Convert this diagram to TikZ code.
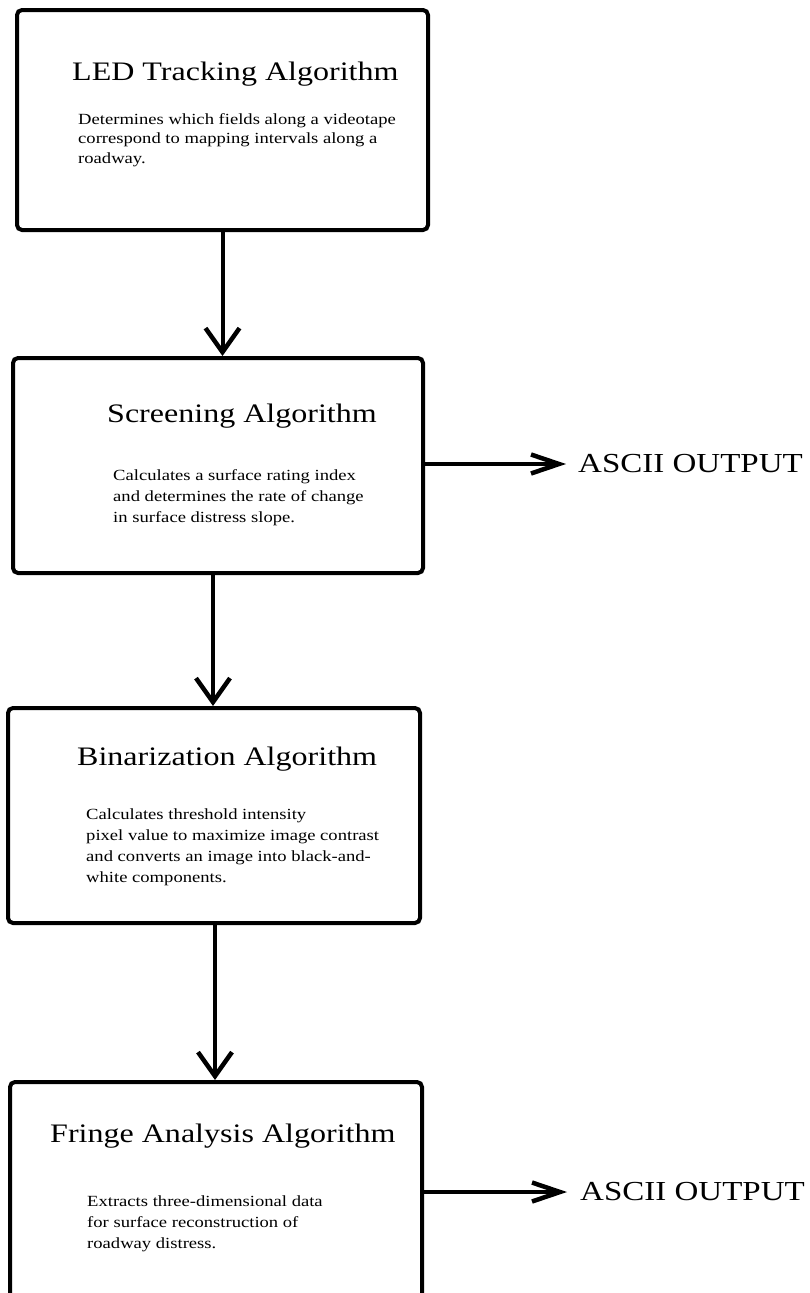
\documentclass[tikz,border=0pt]{standalone}
\usepackage{fontspec}
\setmainfont{Liberation Serif}[FakeStretch=1.2]
\usetikzlibrary{arrows.meta}
\tikzset{
  x=1pt, y=1pt,
  box/.style={draw=black, line width=4pt, rounded corners=5pt, inner sep=0pt, fill=none},
  title/.style={anchor=base west, inner sep=0pt, font=\fontsize{26.7}{32}\selectfont},
  desc/.style={anchor=base west, inner sep=0pt, align=left, font=\fontsize{15.5}{21}\selectfont},
  desca/.style={desc, font=\fontsize{15.5}{19.5}\selectfont},
  outtext/.style={anchor=base west, inner sep=0pt, font=\fontsize{27.5}{32}\selectfont},
  downarrow/.style={line width=4pt, -{Straight Barb[length=24pt, width=34pt, line width=4.5pt]}},
  rightarrow/.style={line width=4pt, -{Straight Barb[length=28pt, width=19pt, line width=4.5pt]}}
}
\begin{document}
\begin{tikzpicture}
\path[use as bounding box, clip] (0,0) rectangle (809,-1293);
\fill[white] (0,0) rectangle (809,-1293);

% boxes
\node[box, minimum width=411pt, minimum height=220pt] (b1) at (222.5,-120) {};
\node[box, minimum width=410pt, minimum height=215pt] (b2) at (218,-465.5) {};
\node[box, minimum width=412pt, minimum height=215pt] (b3) at (214,-815.5) {};
\node[box, minimum width=412pt, minimum height=236pt] (b4) at (216,-1200) {};

% titles
\node[title] (t1) at (72,-80) {LED Tracking Algorithm};
\node[title] (t2) at (107,-422) {Screening Algorithm};
\node[title] (t3) at (77,-765) {Binarization Algorithm};
\node[title] (t4) at (50,-1142) {Fringe Analysis Algorithm};

% descriptions (anchored at the baseline of the last line)
\node[desca] (d1) at (78,-163) {Determines which fields along a videotape\\correspond to mapping intervals along a\\roadway.};
\node[desc] (d2) at (113,-522) {Calculates a surface rating index\\and determines the rate of change\\in surface distress slope.};
\node[desc] (d3) at (86,-882) {Calculates threshold intensity\\pixel value to maximize image contrast\\and converts an image into black-and-\\white components.};
\node[desc] (d4) at (87,-1248) {Extracts three-dimensional data\\for surface reconstruction of\\roadway distress.};

% outputs
\node[outtext] (o1) at (578,-472) {ASCII OUTPUT};
\node[outtext] (o2) at (580,-1200) {ASCII OUTPUT};
\coordinate (a1) at (566,-464);
\coordinate (a2) at (567,-1192);

% connectors
\draw[downarrow] (b1.south) -- (b1.south |- b2.north);
\draw[downarrow] ([xshift=-5pt]b2.south) -- ([xshift=-5pt]b2.south |- b3.north);
\draw[downarrow] ([xshift=1pt]b3.south) -- ([xshift=1pt]b3.south |- b4.north);
\draw[rightarrow] (b2.east |- a1) -- (a1);
\draw[rightarrow] (b4.east |- a2) -- (a2);
\end{tikzpicture}
\end{document}
